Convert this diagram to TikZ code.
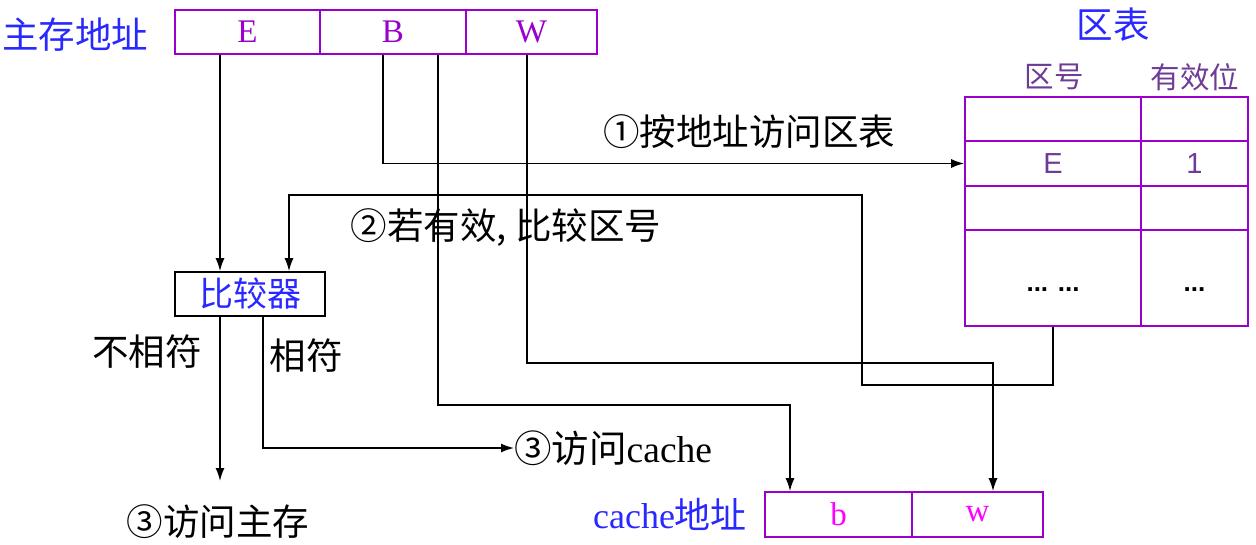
\documentclass[tikz,border=0pt]{standalone}
\usepackage{fontspec}
\setmainfont{Liberation Serif}
\newfontfamily\cjk{Noto Sans CJK SC}
\newfontfamily\arialf{Liberation Sans}
\usetikzlibrary{arrows.meta}
\definecolor{pur}{RGB}{153,0,204}
\definecolor{blu}{RGB}{40,40,255}
\definecolor{hdr}{RGB}{110,60,150}
\definecolor{mag}{RGB}{255,0,255}
\begin{document}
\begin{tikzpicture}[x=1pt,y=-1pt,
  cell/.style={draw=pur,line width=1.6pt,inner sep=0pt,minimum height=44pt,font=\fontsize{33}{33}\selectfont},
  lbl/.style={inner sep=0pt,font=\fontsize{36.5}{36.5}\selectfont\cjk},
  hd/.style={inner sep=0pt,text=hdr,font=\fontsize{29.5}{29.5}\selectfont\cjk},
  dots/.style={inner sep=0pt,text=black,font=\fontsize{26}{26}\selectfont\bfseries\arialf},
  wire/.style={line width=1.5pt},
  arr/.style={line width=1.6pt,-{Latex[length=13pt,width=9pt]}}]
\useasboundingbox (0,0) rectangle (1256,544);
% main address
\node[lbl,text=blu] (mlab) at (75,35) {主存地址};
\node[cell,text=pur,minimum width=145pt] (mE) at (247.5,32) {E};
\node[cell,text=pur,minimum width=146pt] (mB) at (393,32) {B};
\node[cell,text=pur,minimum width=131pt] (mW) at (531.5,32) {W};
% region table
\node[lbl,text=blu] (ttl) at (1113,25) {区表};
\node[hd] (h1) at (1054,77) {区号};
\node[hd] (h2) at (1195,77) {有效位};
\node[cell,minimum width=176pt,minimum height=44pt] (t1a) at (1053,119) {};
\node[cell,minimum width=107pt,minimum height=44pt] (t1b) at (1194.5,119) {};
\node[cell,minimum width=176pt,minimum height=45pt,text=hdr,font=\fontsize{29}{29}\selectfont\arialf] (t2a) at (1053,163.5) {E};
\node[cell,minimum width=107pt,minimum height=45pt,text=hdr,font=\fontsize{29}{29}\selectfont\arialf] (t2b) at (1194.5,163.5) {1};
\node[cell,minimum width=176pt,minimum height=44pt] (t3a) at (1053,208) {};
\node[cell,minimum width=107pt,minimum height=44pt] (t3b) at (1194.5,208) {};
\node[cell,minimum width=176pt,minimum height=96pt] (t4a) at (1053,278) {};
\node[cell,minimum width=107pt,minimum height=96pt] (t4b) at (1194.5,278) {};
\node[dots] (d1) at (1053,290) {... ...};
\node[dots] (d2) at (1194.5,290) {...};
% comparator
\node[draw=black,line width=1.6pt,minimum width=150pt,minimum height=44pt,inner sep=0pt,text=blu,font=\fontsize{34}{34}\selectfont\cjk] (cmp) at (250,294) {比较器};
% cache address
\node[inner sep=0pt,text=blu,font=\fontsize{36}{36}\selectfont] (clab) at (670,514) {cache{\cjk 地址}};
\node[cell,text=mag,minimum width=147pt,minimum height=45pt] (cb) at (838.5,514.5) {b};
\node[cell,text=mag,minimum width=131pt,minimum height=45pt] (cw) at (977.5,514.5) {w};
% labels
\node[lbl] (s1) at (749,132) {①按地址访问区表};
\node[lbl] (s2) at (506,228) {②若有效, 比较区号};
\node[lbl] (nm) at (147,352) {不相符};
\node[lbl] (mt) at (306,356) {相符};
\node[lbl] (amm) at (218,522) {③访问主存};
\node[inner sep=0pt,anchor=west,font=\fontsize{37.5}{37.5}\selectfont] (acc) at (514,448) {{\cjk ③访问}cache};
% coordinates
\coordinate (xE) at (220,0);
\coordinate (xB1) at (383,0);
\coordinate (xB2) at (438,0);
\coordinate (xW) at (527,0);
\coordinate (pB) at (790,405);
\coordinate (pW) at (993,363);
\coordinate (pT1) at (862,385);
\coordinate (pT2) at (289,195);
\coordinate (xM) at (263,0);
\coordinate (eM) at (220,481);
% connectors
\draw[arr] (mE.south -| xE) -- (cmp.north -| xE);
\draw[arr] (mB.south -| xB1) |- (t2a.west);
\draw[arr] (mB.south -| xB2) |- (pB) -- (cb.north -| pB);
\draw[arr] (mW.south -| xW) |- (pW) -- (cw.north -| pW);
\draw[arr] (t4a.south) |- (pT1) |- (pT2) -- (cmp.north -| pT2);
\draw[arr] (cmp.south -| xE) -- (eM);
\draw[arr] (cmp.south -| xM) |- (acc.west);
\end{tikzpicture}
\end{document}
